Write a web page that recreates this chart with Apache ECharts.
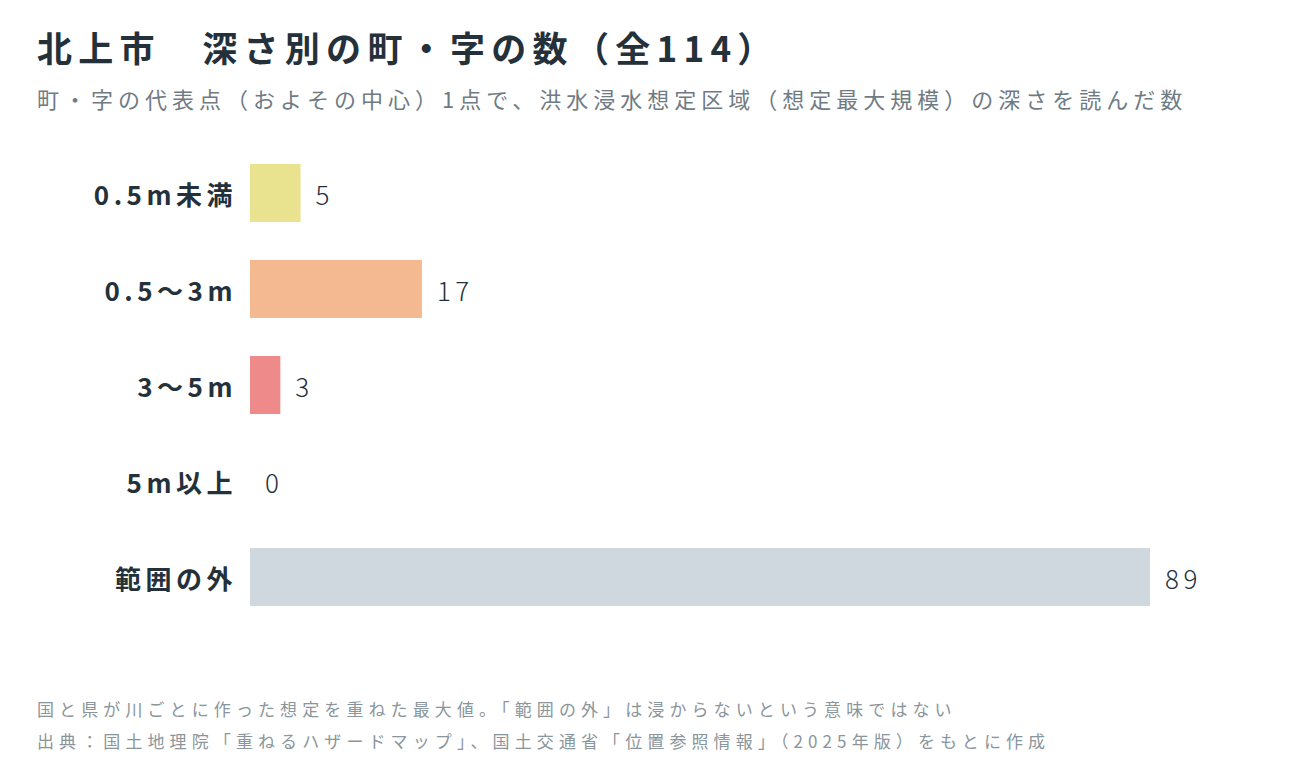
<!DOCTYPE html>
<html><head><meta charset="utf-8">
<script src="https://cdn.jsdelivr.net/npm/echarts@6/dist/echarts.min.js"></script>
<style>html,body{margin:0;padding:0;background:#fff}#c{width:1300px;height:760px}
#c svg text{letter-spacing:4.5px}
#c svg text[style*="35px"]{letter-spacing:6.3px}
#c svg text[style*="22px"]{letter-spacing:5px}
#c svg text[style*="17px"]{letter-spacing:5.1px}</style>
</head><body><div id="c"></div>
<script>
const categories = ['0.5m未満','0.5〜3m','3〜5m','5m以上','範囲の外'];
const values = [5, 17, 3, 0, 89];
const colors = ['#e9e38f','#f4b990','#ef8a8a','#cccccc','#cfd8de'];
const F = '"Noto Sans CJK JP","Noto Sans",sans-serif';
const chart = echarts.init(document.getElementById('c'), null, {renderer:'svg'});
chart.setOption({
  backgroundColor:'#fff',
  animation:false,
  title:[
    {text:'北上市　深さ別の町・字の数（全114）',left:32,top:24,textStyle:{fontFamily:F,fontSize:35,fontWeight:'bold',color:'#25313a'}},
    {text:'町・字の代表点（およその中心）1点で、洪水浸水想定区域（想定最大規模）の深さを読んだ数',left:32,top:82,textStyle:{fontFamily:F,fontSize:22,fontWeight:'normal',color:'#6f7b83'}},
    {text:'国と県が川ごとに作った想定を重ねた最大値。「範囲の外」は浸からないという意味ではない\n出典：国土地理院「重ねるハザードマップ」、国土交通省「位置参照情報」（2025年版）をもとに作成',left:32,top:687,textStyle:{fontFamily:F,fontSize:17,fontWeight:'normal',color:'#8a959c',lineHeight:32}}
  ],
  grid:{left:250,top:145,width:900,height:480,containLabel:false},
  xAxis:{type:'value',min:0,max:89,show:false},
  yAxis:{type:'category',data:categories,inverse:true,axisLine:{show:false},axisTick:{show:false},
    axisLabel:{fontFamily:F,fontSize:26,fontWeight:'bold',color:'#25313a',margin:13}},
  series:[{type:'bar',barWidth:58,
    data:values.map((v,i)=>({value:v,itemStyle:{color:colors[i]}})),
    label:{show:true,position:'right',distance:15,fontFamily:F,fontSize:26,fontWeight:300,color:'#25313a'}}]
});
</script></body></html>
